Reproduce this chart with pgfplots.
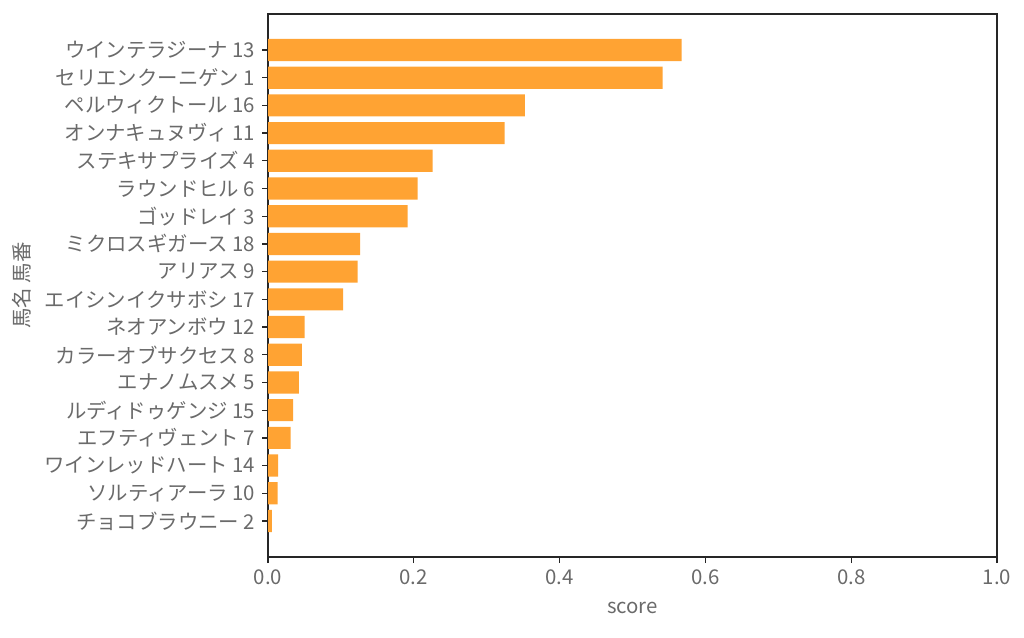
\documentclass[border=0pt]{standalone}
\usepackage{pgfplots}
\pgfplotsset{compat=1.18}
\usepackage{fontspec}
\setmainfont{Noto Sans CJK JP}
\definecolor{barc}{HTML}{FFA333}
\definecolor{txt}{HTML}{6A6A6A}
\definecolor{spine}{HTML}{262626}
\begin{document}
\fontsize{20bp}{24bp}\selectfont
\begin{tikzpicture}[x=1bp,y=1bp]
\path[use as bounding box] (0,0) rectangle (1024,638);
\begin{axis}[
  at={(268bp,81bp)}, anchor=south west,
  scale only axis, width=729bp, height=543bp,
  xmin=0, xmax=1, ymin=-1.3, ymax=18.3, y dir=reverse,
  xbar, bar width=0.8,
  xtick={0,0.2,0.4,0.6,0.8,1.0},
  xticklabel style={/pgf/number format/fixed,/pgf/number format/fixed zerofill,/pgf/number format/precision=1},
  /pgf/number format/assume math mode=true,
  ytick={0,...,17},
  yticklabels={ウインテラジーナ 13,セリエンクーニゲン 1,ペルウィクトール 16,オンナキュヌヴィ 11,ステキサプライズ 4,ラウンドヒル 6,ゴッドレイ 3,ミクロスギガース 18,アリアス 9,エイシンイクサボシ 17,ネオアンボウ 12,カラーオブサクセス 8,エナノムスメ 5,ルディドゥゲンジ 15,エフティヴェント 7,ワインレッドハート 14,ソルティアーラ 10,チョコブラウニー 2},
  tick pos=left, tick align=outside, major tick length=6bp,
  every tick/.style={spine, line width=1.3bp},
  axis line style={spine, line width=1.3bp},
  tick label style={txt, font=\fontsize{20.4bp}{24bp}\selectfont},
  label style={txt, font=\fontsize{20.4bp}{24bp}\selectfont},
  xlabel={score}, ylabel={馬名 馬番},
  xlabel style={yshift=-4bp},
]
\addplot[fill=barc, draw=none] coordinates {
(0.5675,0) (0.5414,1) (0.3525,2) (0.3246,3) (0.2259,4) (0.2053,5) (0.1916,6)
(0.1262,7) (0.1230,8) (0.1029,9) (0.0503,10) (0.0466,11) (0.0425,12) (0.0343,13)
(0.0310,14) (0.0140,15) (0.0133,16) (0.0052,17)};
\end{axis}
\end{tikzpicture}
\end{document}
